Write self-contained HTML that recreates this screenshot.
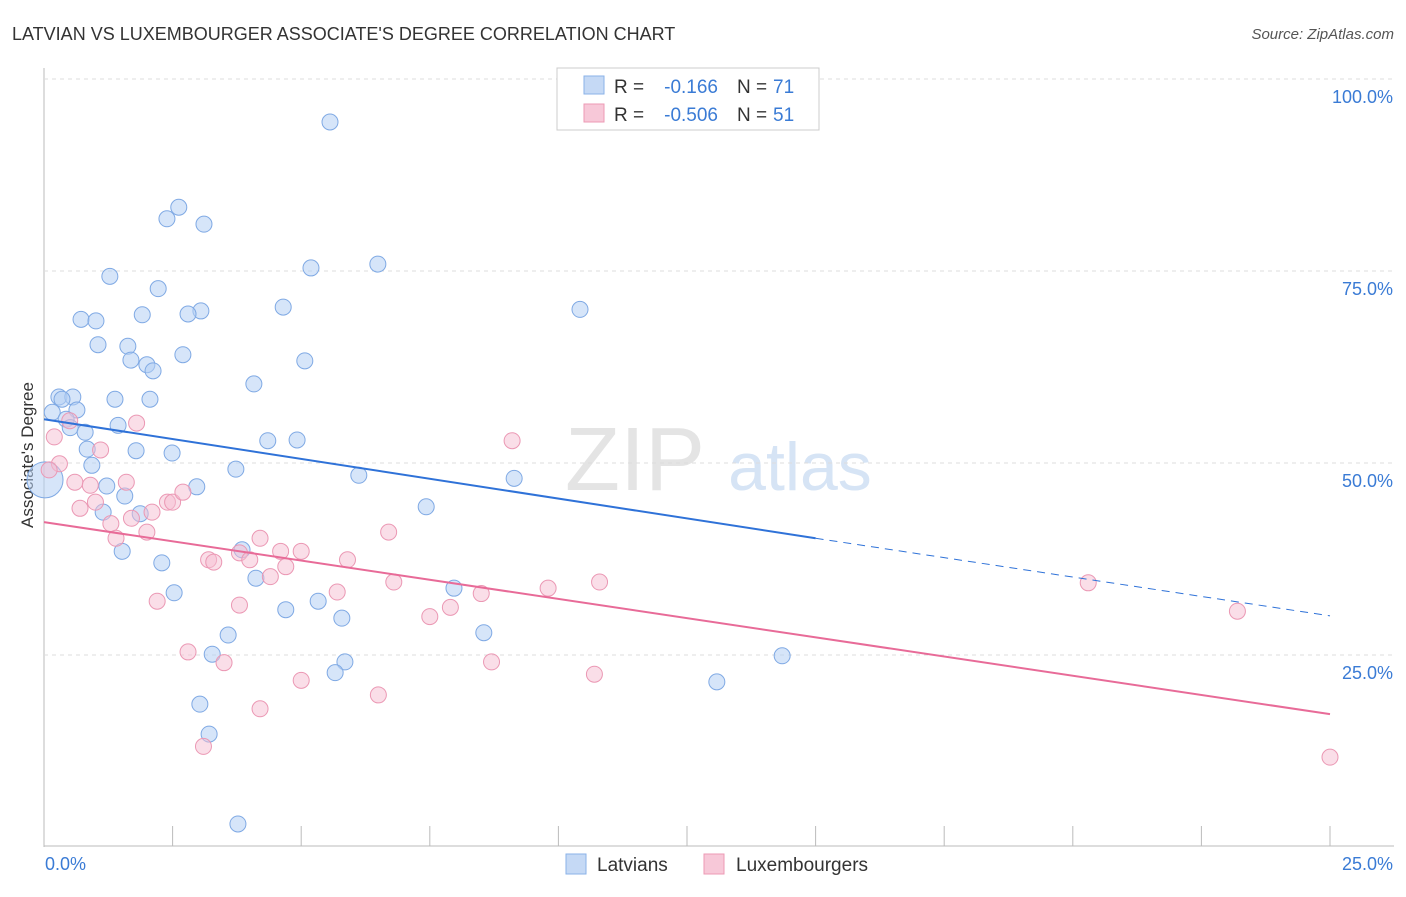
<!DOCTYPE html>
<html><head><meta charset="utf-8"><style>
body{margin:0;background:#fff;font-family:"Liberation Sans",sans-serif}
svg text{font-family:"Liberation Sans",sans-serif}
</style></head><body>
<svg id="c" width="1406" height="892">
<text x="12" y="40" font-size="18" fill="#333">LATVIAN VS LUXEMBOURGER ASSOCIATE'S DEGREE CORRELATION CHART</text>
<text x="1394" y="39" font-size="15" fill="#555" font-style="italic" text-anchor="end">Source: ZipAtlas.com</text>
<text x="33" y="455" font-size="17" fill="#333" text-anchor="middle" transform="rotate(-90 33 455)">Associate's Degree</text>
<text x="635" y="490" font-size="90" fill="#e4e4e4" font-family="Liberation Serif" text-anchor="middle">ZIP</text>
<text x="800" y="490" font-size="68" fill="#d6e4f5" text-anchor="middle">atlas</text>
<g id="grid"></g><g id="marks"></g>
<g>
<rect x="557" y="68" width="262" height="62" fill="#fff" stroke="#ccc"/>
<rect x="584" y="76" width="20" height="18" fill="#c5d9f5" stroke="#8ab2e8"/>
<rect x="584" y="104" width="20" height="18" fill="#f7c8d8" stroke="#ec9ab4"/>
<text x="614" y="93" font-size="19" fill="#333">R =</text>
<text x="718" y="93" font-size="19" fill="#3a7bd5" text-anchor="end">-0.166</text>
<text x="737" y="93" font-size="19" fill="#333">N =</text>
<text x="773" y="93" font-size="19" fill="#3a7bd5">71</text>
<text x="614" y="121" font-size="19" fill="#333">R =</text>
<text x="718" y="121" font-size="19" fill="#3a7bd5" text-anchor="end">-0.506</text>
<text x="737" y="121" font-size="19" fill="#333">N =</text>
<text x="773" y="121" font-size="19" fill="#3a7bd5">51</text>
</g>
<g>
<rect x="566" y="854" width="20" height="20" fill="#c5d9f5" stroke="#8ab2e8"/>
<text x="597" y="871" font-size="19" fill="#333">Latvians</text>
<rect x="704" y="854" width="20" height="20" fill="#f7c8d8" stroke="#ec9ab4"/>
<text x="736" y="871" font-size="19" fill="#333">Luxembourgers</text>
</g>
</svg>
<script>
const yTicks=[25,50,75,100];
const yTickLabels=["25.0%","50.0%","75.0%","100.0%"];
const xTickLabels=["0.0%","25.0%"];
const latX=[5.56,2.62,2.39,3.11,6.49,5.19,1.28,2.22,4.65,3.05,2.80,1.91,10.42,0.72,1.01,1.05,1.63,1.69,2.00,2.12,2.70,5.07,4.08,1.38,2.06,0.29,0.56,0.35,0.16,0.64,0.43,0.51,0.80,1.44,4.35,4.92,0.84,1.79,2.49,0.93,3.73,6.12,9.14,0.02,1.22,2.97,1.57,7.43,1.15,1.87,3.85,1.52,2.29,4.12,2.53,7.97,5.33,4.70,5.79,8.55,3.58,3.27,5.85,14.35,5.66,13.08,3.03,3.21,3.77];
const latY=[94.4,83.3,81.8,81.1,75.9,75.4,74.3,72.7,70.3,69.8,69.4,69.3,70.0,68.7,68.5,65.4,65.2,63.4,62.8,62.0,64.1,63.3,60.3,58.3,58.3,58.6,58.6,58.3,56.6,56.9,55.7,54.6,54.0,54.9,52.9,53.0,51.8,51.6,51.3,49.7,49.2,48.4,48.0,47.8,47.0,46.9,45.7,44.3,43.6,43.4,38.7,38.5,37.0,35.0,33.1,33.7,32.0,30.9,29.8,27.9,27.6,25.1,24.1,24.9,22.7,21.5,18.6,14.7,3.0];
const luxX=[1.8,0.2,0.5,0.3,1.1,0.1,9.1,0.6,0.9,1.6,1.0,0.7,2.4,2.5,2.7,2.1,1.3,1.7,2.0,6.7,1.4,4.2,3.8,4.6,5.0,3.2,3.3,4.0,5.9,4.7,4.4,6.8,10.8,9.8,20.3,5.7,8.5,7.9,3.8,2.2,7.5,23.2,2.8,3.5,8.7,10.7,5.0,6.5,4.2,3.1,25.0];
const luxY=[55.2,53.4,55.5,49.9,51.7,49.1,52.9,47.5,47.1,47.5,44.9,44.1,44.9,44.9,46.2,43.6,42.1,42.8,41.0,41.0,40.2,40.2,38.3,38.5,38.5,37.4,37.1,37.4,37.4,36.5,35.2,34.5,34.5,33.7,34.4,33.2,33.0,31.2,31.5,32.0,30.0,30.7,25.4,24.0,24.1,22.5,21.7,19.8,18.0,13.1,11.7];
const bigIndex=43;
const X=v=>44+v/25*1286, Y=v=>847-v/100*768;
const NS="http://www.w3.org/2000/svg";
const g=document.getElementById('grid'), m=document.getElementById('marks');
function el(p,t,a){const e=document.createElementNS(NS,t);for(const k in a)e.setAttribute(k,a[k]);p.appendChild(e);return e;}
let ax=el(g,'line',{x1:44,y1:68,x2:44,y2:847,stroke:'#bbb'});


let bx=el(g,'line',{x1:44,y1:846,x2:1394,y2:846,stroke:'#bbb'});


yTicks.forEach((t,i)=>{
 const l=el(g,'line',{x1:44,x2:1394,y1:Y(t),y2:Y(t),stroke:'#ddd','stroke-dasharray':'4,4'});
 
 
 const tx=el(g,'text',{x:1393,y:Y(t)+24,'font-size':18,fill:'#3a7bd5','text-anchor':'end'});
 tx.textContent=yTickLabels[i];
 
 
});
for(let i=0;i<=10;i++){const x=X(i*2.5);
 const l=el(g,'line',{x1:x,x2:x,y1:826,y2:846,stroke:'#bbb'});
 
 }
xTickLabels.forEach((s,i)=>{
 const tx=el(g,'text',{x:i?1393:45,y:870,'font-size':18,fill:'#3a7bd5','text-anchor':i?'end':'start'});
 tx.textContent=s;
 
 
});
latX.forEach((v,i)=>{
 const c=el(m,'circle',{cx:X(v),cy:Y(latY[i]),r:i===bigIndex?18:8,fill:'rgba(180,208,244,0.55)',stroke:'#7fa9e4','stroke-width':1});
 
 
});
luxX.forEach((v,i)=>{
 const c=el(m,'circle',{cx:X(v),cy:Y(luxY[i]),r:8,fill:'rgba(246,190,210,0.5)',stroke:'#eb98b4','stroke-width':1});
 
 
});
let t1=el(m,'line',{x1:X(0),y1:Y(55.7),x2:X(15),y2:Y(40.2),stroke:'#2f72d8','stroke-width':2});


let t2=el(m,'line',{x1:X(15),y1:Y(40.2),x2:X(25),y2:Y(30.1),stroke:'#2f72d8','stroke-width':1,'stroke-dasharray':'8,6'});


let t3=el(m,'line',{x1:X(0),y1:Y(42.3),x2:X(25),y2:Y(17.3),stroke:'#e86b98','stroke-width':2});


</script>
</body></html>
